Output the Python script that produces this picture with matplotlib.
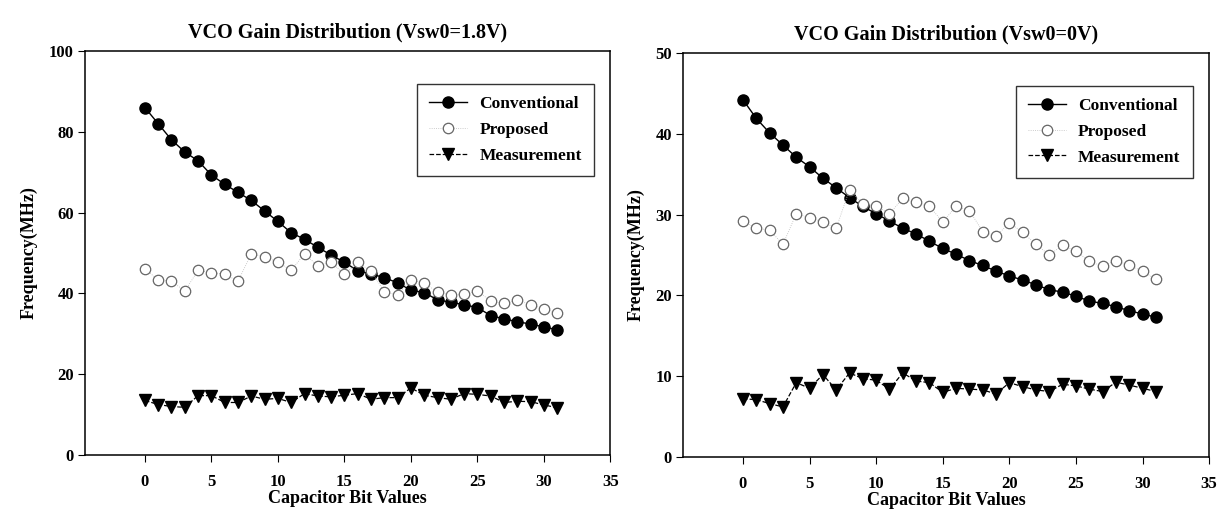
import matplotlib
matplotlib.use("Agg")
import matplotlib.pyplot as plt
import numpy as np

# capacitor bit index 0..31
bits = list(range(32))

# left panel, Vsw0 = 1.8 V
conv_18 = [86.0, 82.0, 78.0, 75.0, 72.8, 69.3, 67.0, 65.0, 63.0, 60.4, 57.8, 55.0,
           53.4, 51.4, 49.5, 47.7, 45.6, 44.8, 43.9, 42.6, 40.8, 40.2, 38.4, 37.8,
           37.2, 36.5, 34.5, 33.7, 33.0, 32.4, 31.7, 31.0]
prop_18 = [46.0, 43.4, 43.0, 40.6, 45.7, 45.1, 44.8, 43.0, 49.8, 49.1, 47.7, 45.7,
           49.8, 46.8, 47.7, 44.7, 47.7, 45.5, 40.4, 39.6, 43.4, 42.5, 40.4, 39.6,
           39.8, 40.6, 38.1, 37.5, 38.3, 37.2, 36.1, 35.2]
meas_18 = [13.5, 12.5, 12.0, 11.8, 14.7, 14.7, 13.0, 13.0, 14.6, 13.8, 14.0, 13.0,
           15.2, 14.6, 14.4, 14.8, 15.2, 13.8, 14.2, 14.2, 16.6, 14.8, 14.2, 13.8,
           15.2, 15.0, 14.6, 13.0, 13.3, 13.2, 12.4, 11.7]

# right panel, Vsw0 = 0 V
conv_0 = [44.2, 41.9, 40.1, 38.6, 37.1, 35.9, 34.5, 33.3, 32.1, 31.0, 30.1, 29.2,
          28.3, 27.6, 26.7, 25.8, 25.1, 24.3, 23.7, 23.0, 22.4, 21.9, 21.3, 20.7,
          20.4, 19.9, 19.3, 19.0, 18.6, 18.1, 17.7, 17.3]
prop_0 = [29.2, 28.3, 28.1, 26.3, 30.1, 29.6, 29.1, 28.3, 33.1, 31.3, 31.1, 30.1,
          32.0, 31.5, 31.0, 29.1, 31.0, 30.5, 27.9, 27.3, 29.0, 27.8, 26.3, 25.0,
          26.2, 25.5, 24.2, 23.6, 24.3, 23.7, 23.0, 22.0]
meas_0 = [7.2, 7.1, 6.6, 6.2, 9.2, 8.5, 10.2, 8.3, 10.4, 9.7, 9.5, 8.4,
          10.4, 9.4, 9.2, 8.0, 8.5, 8.4, 8.3, 7.8, 9.2, 8.7, 8.3, 8.1,
          9.0, 8.8, 8.4, 8.1, 9.25, 8.9, 8.5, 8.1]

plt.rcParams['font.family'] = ['Liberation Serif', 'DejaVu Serif']
plt.rcParams['font.weight'] = 'bold'

fig = plt.figure(figsize=(12.18, 5.18), dpi=100)
ax1 = fig.add_axes([0.0698, 0.1216, 0.4314, 0.780])
ax2 = fig.add_axes([0.5608, 0.1178, 0.4319, 0.780])


def draw_panel(ax, conv, prop, meas, ymax, ystep, title):
    ax.plot(bits, conv, color='black', lw=1.0, marker='o', ms=8,
            mfc='black', mec='black', label='Conventional')
    ax.plot(bits, prop, color='#bbbbbb', lw=0.6, ls=':', marker='o', ms=7.5,
            mfc='white', mec='#666666', mew=0.9, label='Proposed')
    ax.plot(bits, meas, color='black', lw=0.9, ls='--', marker='v', ms=8,
            mfc='black', mec='black', label='Measurement')

    ax.set_xlim(-4.5, 35)
    ax.set_ylim(0, ymax)
    ax.set_xticks(range(0, 36, 5))
    ax.set_yticks(np.arange(0, ymax + 1, ystep))
    ax.tick_params(axis='x', direction='out', length=5, pad=9, labelsize=12)
    ax.tick_params(axis='y', direction='out', length=5, pad=3, labelsize=12)
    for s in ax.spines.values():
        s.set_linewidth(1.1)

    ax.set_title(title, fontsize=14.5, fontweight='bold', pad=10)
    ax.set_xlabel('Capacitor Bit Values', fontsize=13, fontweight='bold', labelpad=0)
    ax.set_ylabel('Frequency(MHz)', fontsize=13, fontweight='bold', labelpad=8)

    leg = ax.legend(loc='upper right', bbox_to_anchor=(0.985, 0.94), fontsize=12.5,
                    frameon=True, fancybox=False, edgecolor='black',
                    handlelength=2.2, borderpad=0.7, labelspacing=0.55,
                    handletextpad=0.7)
    leg.get_frame().set_linewidth(1.0)


draw_panel(ax1, conv_18, prop_18, meas_18, 100, 20, 'VCO Gain Distribution (Vsw0=1.8V)')
draw_panel(ax2, conv_0, prop_0, meas_0, 50, 10, 'VCO Gain Distribution (Vsw0=0V)')

fig.savefig('out.png', dpi=100)
